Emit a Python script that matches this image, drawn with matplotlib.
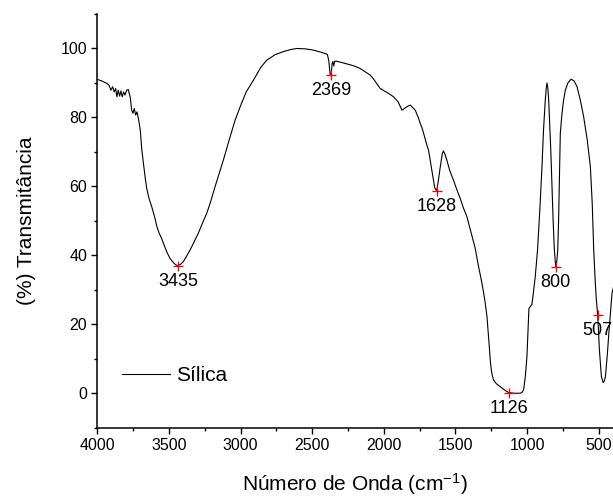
import numpy as np
import matplotlib
matplotlib.use('Agg')
import matplotlib.pyplot as plt
from matplotlib.ticker import MultipleLocator

plt.rcParams['font.family'] = ['Liberation Sans', 'DejaVu Sans']
plt.rcParams['mathtext.fontset'] = 'custom'
plt.rcParams['mathtext.rm'] = 'Liberation Sans'
plt.rcParams['mathtext.it'] = 'Liberation Sans:italic'

# spectrum (wavenumber cm-1, transmittance %)
wavenumber = [3999, 3971, 3936, 3920, 3906, 3894, 3883, 3873, 3864, 3855, 3845, 3836,
              3827, 3817, 3808, 3796, 3785, 3771, 3761, 3752, 3743, 3733, 3724, 3712,
              3701, 3691, 3680, 3665, 3656, 3640, 3621, 3600, 3586, 3570, 3551, 3535,
              3516, 3495, 3470, 3455, 3440, 3420, 3400, 3380, 3354, 3325, 3296, 3265,
              3237, 3210, 3179, 3150, 3121, 3080, 3039, 3000, 2960, 2911, 2860, 2818,
              2760, 2702, 2650, 2608, 2550, 2500, 2445, 2400, 2394, 2385, 2375, 2368,
              2362, 2356, 2350, 2344, 2328, 2282, 2212, 2166, 2096, 2073, 2026, 1990,
              1968, 1933, 1900, 1874, 1856, 1839, 1816, 1800, 1781, 1760, 1746, 1730,
              1716, 1700, 1688, 1665, 1645, 1631, 1620, 1605, 1592, 1584, 1575, 1560,
              1540, 1514, 1490, 1467, 1445, 1420, 1390, 1362, 1340, 1315, 1295, 1280,
              1268, 1262, 1257, 1250, 1242, 1234, 1222, 1210, 1187, 1160, 1129, 1090,
              1047, 1035, 1024,
              1012, 1001, 992, 987, 975, 966, 955, 943, 927, 910, 896, 885, 873, 866,
              861, 855, 849, 842, 834, 826, 818, 810, 803, 798, 792, 786, 780, 774,
              768, 756, 745, 733, 715, 693, 672, 651, 628, 605, 580, 558, 545, 535,
              525, 516, 507, 495, 481, 469, 461, 453, 440, 429, 407, 396]
transmittance = [91.0, 90.6, 89.9, 89.4, 87.9, 88.9, 87.4, 88.4, 86.0, 87.9, 86.2, 87.7,
                 86.0, 87.4, 86.5, 87.9, 88.1, 85.8, 82.1, 81.2, 82.6, 80.7, 81.6, 79.2,
                 76.3, 70.9, 67.0, 62.0, 59.4, 56.5, 54.1, 51.0, 48.5, 46.5, 44.8, 43.0,
                 41.0, 39.2, 37.9, 37.3, 37.0, 37.4, 38.2, 39.6, 41.5, 43.9, 46.4, 49.5,
                 52.2, 55.5, 59.9, 63.8, 67.6, 73.5, 79.2, 83.5, 87.5, 90.8, 94.5, 96.6,
                 98.2, 99.1, 99.7, 100.0, 99.9, 99.6, 99.0, 98.4, 98.2, 96.5, 92.4, 92.3,
                 95.6, 96.2, 94.9, 96.3, 96.3, 95.8, 95.0, 94.2, 92.3, 91.2, 88.4, 87.5,
                 87.0, 86.0, 84.5, 82.1, 82.6, 83.1, 83.6, 82.9, 82.1, 80.0, 78.3, 76.5,
                 74.4, 72.0, 70.5, 64.7, 59.6, 58.7, 61.5, 66.0, 69.5, 70.3, 69.5, 67.6,
                 64.6, 61.8, 59.0, 56.5, 53.8, 51.2, 46.5, 42.0, 37.0, 31.9, 27.0, 22.2,
                 16.0, 12.5, 9.5, 6.8, 5.0, 3.9, 3.1, 2.6, 1.9, 1.0, 0.2, 0.0,
                 0.0, 0.3, 1.0,
                 5.0, 10.6, 20.0, 24.6, 25.3, 25.8, 29.5, 33.8, 41.5, 54.0, 65.7, 76.5, 85.0, 88.5,
                 90.0, 88.5, 85.0, 78.0, 70.0, 60.0, 50.0, 42.0, 38.0, 36.6, 38.5, 41.5, 50.0, 62.0,
                 75.4, 81.2, 85.0, 87.9, 90.0, 91.1, 90.6, 88.9, 85.0, 80.2, 73.5, 65.7, 55.0, 42.0,
                 33.0, 27.0, 22.7, 12.6, 4.8, 3.1, 3.5, 4.8, 11.0, 17.4, 29.0, 30.9]

peak_pos = [3435, 2369, 1628, 1126, 800, 507]
peak_val = [37.0, 92.3, 58.7, 0.1, 36.6, 22.7]
peak_labels = ['3435', '2369', '1628', '1126', '800', '507']

fig = plt.figure(figsize=(6.13, 4.97), dpi=100)
ax = fig.add_axes([0.159, 0.1394, 0.841, 0.8324])

ax.plot(wavenumber, transmittance, color='black', lw=0.8, label='Sílica')
ax.plot(peak_pos, peak_val, ls='none', marker='+', color='red', ms=7, mew=0.9)
for x, y, s in zip(peak_pos, peak_val, peak_labels):
    ax.annotate(s, (x, y), xytext=(0, -7), textcoords='offset pixels',
                ha='center', va='top', fontsize=13, annotation_clip=False)

ax.set_xlim(4000, 400)
ax.set_ylim(-10, 110)
ax.xaxis.set_major_locator(MultipleLocator(500))
ax.xaxis.set_minor_locator(MultipleLocator(250))
ax.yaxis.set_major_locator(MultipleLocator(20))
ax.yaxis.set_minor_locator(MultipleLocator(10))
ax.tick_params(which='both', direction='out', width=1.0, labelsize=11.5)
ax.tick_params(which='major', length=4)
ax.tick_params(which='minor', length=2.5)
for side in ['top', 'right']:
    ax.spines[side].set_visible(False)
for side in ['left', 'bottom']:
    ax.spines[side].set_linewidth(1.1)

ax.set_xlabel(r'Número de Onda (cm$^{\mathrm{-1}}$)', fontsize=15)
ax.set_ylabel('(%) Transmitância', fontsize=15)
ax.xaxis.set_label_coords(0.5, -0.105)
ax.yaxis.set_label_coords(-0.12, 0.5)

ax.legend(loc='center left', bbox_to_anchor=(0.047, 0.126), frameon=False,
          fontsize=15, handlelength=2.3, handletextpad=0.3,
          borderpad=0, borderaxespad=0)

fig.savefig('out.png', dpi=100)
